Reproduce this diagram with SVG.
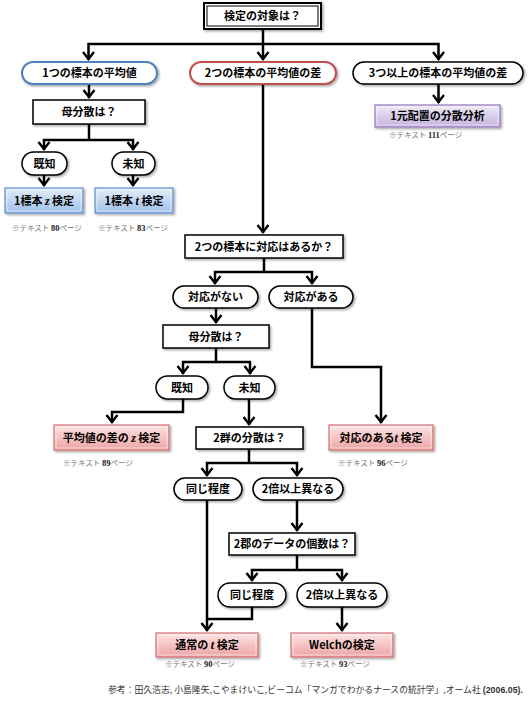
<svg xmlns="http://www.w3.org/2000/svg" width="530" height="708" viewBox="0 0 530 708">
<defs>
<marker id="arr" markerUnits="userSpaceOnUse" markerWidth="20" markerHeight="20" viewBox="-10 -10 20 20" refX="0" refY="0" orient="auto-start-reverse">
<path d="M-8,-5.5 L-1,0 L-8,5.5" fill="none" stroke="#000" stroke-width="2.4"/>
</marker>
<filter id="sh" x="-10%" y="-20%" width="130%" height="160%">
<feDropShadow dx="1.5" dy="1.5" stdDeviation="1" flood-color="#000" flood-opacity="0.35"/>
</filter>
<linearGradient id="gb" x1="0" y1="0" x2="0" y2="1">
<stop offset="0" stop-color="#e3edf9"/><stop offset="1" stop-color="#9fc0ea"/>
</linearGradient>
<linearGradient id="gr" x1="0" y1="0" x2="0" y2="1">
<stop offset="0" stop-color="#fde4e4"/><stop offset="1" stop-color="#eda3a3"/>
</linearGradient>
<linearGradient id="gp" x1="0" y1="0" x2="0" y2="1">
<stop offset="0" stop-color="#efeaf6"/><stop offset="1" stop-color="#c3b1de"/>
</linearGradient>
</defs>
<style>
.t{font-family:"Noto Sans CJK JP","Noto Sans",sans-serif;font-size:11px;font-weight:bold;fill:#000;text-anchor:middle}
.it{font-family:"Liberation Serif",serif;font-style:italic;font-weight:bold;font-size:12px}
.q{fill:#fff;stroke:#000;stroke-width:1.5;filter:url(#sh)}
.p{fill:#fff;stroke:#000;stroke-width:1.5;filter:url(#sh)}
.pb{fill:#fff;stroke:#4f81bd;stroke-width:2;filter:url(#sh)}
.pr{fill:#fff;stroke:#c0504d;stroke-width:2;filter:url(#sh)}
.rb{fill:url(#gb);stroke:#6a97d3;stroke-width:1.3;filter:url(#sh)}
.rr{fill:url(#gr);stroke:#d7797a;stroke-width:1.3;filter:url(#sh)}
.rp{fill:url(#gp);stroke:#9b82c4;stroke-width:1.3;filter:url(#sh)}
.hl{fill:none;stroke:#fff;stroke-opacity:0.7;stroke-width:0.8}
.n{font-family:"Noto Sans CJK JP","Noto Sans",sans-serif;font-size:7.5px;fill:#777}
.nb{font-family:"Liberation Serif",serif;font-weight:bold;fill:#222;font-size:8.5px}
.c{fill:none;stroke:#000;stroke-width:2.5}
.a{marker-end:url(#arr)}
.aa{marker-start:url(#arr);marker-end:url(#arr)}
.f{font-family:"Noto Sans CJK JP","Noto Sans",sans-serif;font-size:8.8px;fill:#333}
</style>
<rect width="530" height="708" fill="#fff"/>

<g id="connectors">
<path class="c" d="M263,29 V44"/>
<path class="c aa" d="M88.5,60 V44 H438.5 V60"/>
<path class="c a" d="M263,44 V60"/>
<path class="c a" d="M89,84 V98"/>
<path class="c a" d="M438.5,84 V103"/>
<path class="c" d="M89,124 V140"/>
<path class="c aa" d="M44,150 V140 H133 V150"/>
<path class="c a" d="M44,175 V186"/>
<path class="c a" d="M133,175 V186"/>
<path class="c a" d="M263,84 V233"/>
<path class="c" d="M264,258 V272"/>
<path class="c aa" d="M215,284 V272 H312 V284"/>
<path class="c a" d="M216,308 V323"/>
<path class="c" d="M216,348 V362"/>
<path class="c aa" d="M183,374 V362 H250 V374"/>
<path class="c a" d="M183,399 V412 H112 V423"/>
<path class="c a" d="M249,399 V425"/>
<path class="c a" d="M312,308 V367 H381 V423"/>
<path class="c" d="M249,449 V463"/>
<path class="c aa" d="M207,476 V463 H297 V476"/>
<path class="c a" d="M297,500 V531"/>
<path class="c" d="M297,555 V570"/>
<path class="c aa" d="M252,581 V570 H342 V581"/>
<path class="c a" d="M207,500 V631"/>
<path class="c" d="M252,607 V619 H207"/>
<path class="c a" d="M342,607 V631"/>
</g>

<g id="n-top">
<rect x="204" y="3" width="117" height="26" fill="#fff" stroke="#000" stroke-width="2" filter="url(#sh)"/>
<rect x="207" y="6" width="111" height="20" fill="none" stroke="#000" stroke-width="1"/>
<text class="t" x="262.5" y="20">検定の対象は？</text>
</g>
<g id="n-one">
<rect class="pb" x="22" y="62" width="135" height="22" rx="11"/>
<text class="t" x="89.5" y="77">1つの標本の平均値</text>
</g>
<g id="n-two">
<rect class="pr" x="190" y="62" width="146" height="22" rx="11"/>
<text class="t" x="263" y="77">2つの標本の平均値の差</text>
</g>
<g id="n-three">
<rect class="p" x="353" y="62" width="170" height="22" rx="11"/>
<text class="t" x="438" y="77">3つ以上の標本の平均値の差</text>
</g>
<g id="n-q1">
<rect class="q" x="33" y="100" width="112" height="24"/>
<text class="t" x="89" y="116">母分散は？</text>
</g>
<g id="n-anova">
<rect class="rp" x="375" y="105" width="125" height="22"/>
<rect class="hl" x="377" y="107" width="121" height="18"/>
<text class="t" x="437.5" y="120">1元配置の分散分析</text>
<text class="n" x="389" y="138">※テキスト <tspan class="nb">111</tspan>ページ</text>
</g>
<g id="n-k1">
<rect class="p" x="22" y="152" width="45" height="23" rx="11.5"/>
<text class="t" x="44.5" y="167.5">既知</text>
</g>
<g id="n-u1">
<rect class="p" x="112" y="152" width="43" height="23" rx="11.5"/>
<text class="t" x="133.5" y="167.5">未知</text>
</g>
<g id="n-z1">
<rect class="rb" x="5" y="188" width="78" height="25"/>
<rect class="hl" x="7" y="190" width="74" height="21"/>
<text class="t" x="44" y="204.5">1標本 <tspan class="it">z</tspan> 検定</text>
<text class="n" x="12" y="231">※テキスト <tspan class="nb">80</tspan>ページ</text>
</g>
<g id="n-t1">
<rect class="rb" x="95" y="188" width="78" height="25"/>
<rect class="hl" x="97" y="190" width="74" height="21"/>
<text class="t" x="134" y="204.5">1標本 <tspan class="it">t</tspan> 検定</text>
<text class="n" x="98" y="231">※テキスト <tspan class="nb">83</tspan>ページ</text>
</g>
<g id="n-q2">
<rect class="q" x="185" y="235" width="158" height="23"/>
<text class="t" x="264" y="250.5">2つの標本に対応はあるか？</text>
</g>
<g id="n-nopair">
<rect class="p" x="173" y="286" width="85" height="22" rx="11"/>
<text class="t" x="215.5" y="301">対応がない</text>
</g>
<g id="n-pair">
<rect class="p" x="269" y="286" width="84" height="22" rx="11"/>
<text class="t" x="311" y="301">対応がある</text>
</g>
<g id="n-q3">
<rect class="q" x="163" y="325" width="106" height="23"/>
<text class="t" x="216" y="340.5">母分散は？</text>
</g>
<g id="n-k2">
<rect class="p" x="156" y="376" width="52" height="23" rx="11.5"/>
<text class="t" x="182" y="391.5">既知</text>
</g>
<g id="n-u2">
<rect class="p" x="224" y="376" width="51" height="23" rx="11.5"/>
<text class="t" x="249.5" y="391.5">未知</text>
</g>
<g id="n-dz">
<rect class="rr" x="54" y="425" width="115" height="25"/>
<rect class="hl" x="56" y="427" width="111" height="21"/>
<text class="t" x="111.5" y="441.5">平均値の差の <tspan class="it">z</tspan> 検定</text>
<text class="n" x="63" y="466">※テキスト <tspan class="nb">89</tspan>ページ</text>
</g>
<g id="n-q4">
<rect class="q" x="196" y="427" width="107" height="22"/>
<text class="t" x="249.5" y="442">2群の分散は？</text>
</g>
<g id="n-pt">
<rect class="rr" x="329" y="425" width="104" height="25"/>
<rect class="hl" x="331" y="427" width="100" height="21"/>
<text class="t" x="381" y="441.5">対応のある<tspan class="it">t</tspan> 検定</text>
<text class="n" x="338" y="466">※テキスト <tspan class="nb">96</tspan>ページ</text>
</g>
<g id="n-s1">
<rect class="p" x="174" y="478" width="68" height="22" rx="11"/>
<text class="t" x="208" y="493">同じ程度</text>
</g>
<g id="n-d1">
<rect class="p" x="253" y="478" width="90" height="22" rx="11"/>
<text class="t" x="298" y="493">2倍以上異なる</text>
</g>
<g id="n-q5">
<rect class="q" x="229" y="533" width="126" height="22"/>
<text class="t" x="292" y="548">2郡のデータの個数は？</text>
</g>
<g id="n-s2">
<rect class="p" x="218" y="583" width="68" height="24" rx="12"/>
<text class="t" x="252" y="599">同じ程度</text>
</g>
<g id="n-d2">
<rect class="p" x="297" y="583" width="90" height="24" rx="12"/>
<text class="t" x="342" y="599">2倍以上異なる</text>
</g>
<g id="n-tt">
<rect class="rr" x="156" y="633" width="102" height="24"/>
<rect class="hl" x="158" y="635" width="98" height="20"/>
<text class="t" x="207" y="649">通常の <tspan class="it">t</tspan> 検定</text>
<text class="n" x="165" y="667">※テキスト <tspan class="nb">90</tspan>ページ</text>
</g>
<g id="n-welch">
<rect class="rr" x="291" y="633" width="102" height="24"/>
<rect class="hl" x="293" y="635" width="98" height="20"/>
<text class="t" x="342" y="649">Welchの検定</text>
<text class="n" x="300" y="667">※テキスト <tspan class="nb">93</tspan>ページ</text>
</g>
<g id="footer">
<text class="f" x="108" y="693" textLength="415" lengthAdjust="spacing">参考：田久浩志, 小島隆矢,こやまけいこ,ビーコム「マンガでわかるナースの統計学」,オーム社 <tspan font-family="Liberation Sans, sans-serif" font-weight="bold">(2006.05).</tspan></text>
</g>
</svg>
